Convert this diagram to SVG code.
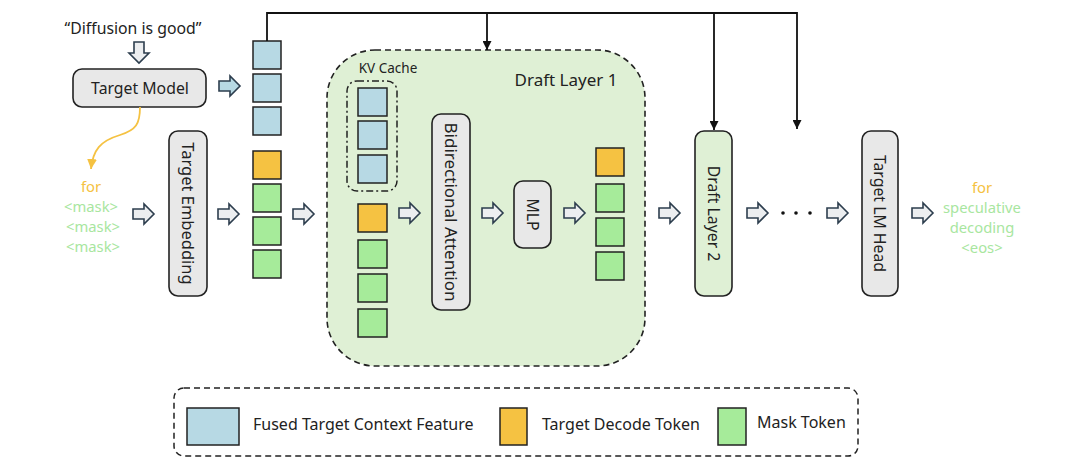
<svg xmlns="http://www.w3.org/2000/svg" width="1080" height="472" viewBox="0 0 1080 472">
<defs>
<style>
text{font-family:"Noto Sans","Open Sans","Liberation Sans",sans-serif;fill:#222;}
.lbl{font-size:15.8px;text-anchor:middle;dominant-baseline:central;}
.box{fill:#e8e8e8;stroke:#222;stroke-width:1.6;}
.gbox{fill:#dff0d5;stroke:#222;stroke-width:1.6;}
.b{fill:#b7d9e4;stroke:#222;stroke-width:1.5;}
.o{fill:#f5c242;stroke:#222;stroke-width:1.5;}
.g{fill:#a6eb9a;stroke:#222;stroke-width:1.5;}
.fat{fill:#eceef0;stroke:#2d3e4e;stroke-width:1.6;stroke-linejoin:miter;}
.line{fill:none;stroke:#111;stroke-width:1.8;}
.otxt{fill:#f5c242;font-size:14.8px;text-anchor:middle;dominant-baseline:central;}
.gtxt{fill:#a8e6a0;font-size:14.8px;text-anchor:middle;dominant-baseline:central;}
.leg{font-size:16px;dominant-baseline:central;}
</style>
<path id="fa" d="M0,-5 H11 V-10 L21,0 L11,10 V5 H0 Z"/>
<marker id="ah" viewBox="0 0 10 10" refX="10" refY="5" markerWidth="9" markerHeight="9" markerUnits="userSpaceOnUse" orient="auto"><path d="M0,0 L10,5 L0,10 Z" fill="#111"/></marker>
<marker id="oh" viewBox="0 0 10 10" refX="10" refY="5" markerWidth="10" markerHeight="10" markerUnits="userSpaceOnUse" orient="auto"><path d="M0,0 L10,5 L0,10 Z" fill="#f5c242"/></marker>
</defs>
<rect width="1080" height="472" fill="#fff"/>

<g id="draft-layer-1">
<rect x="327" y="50" width="318" height="316" rx="48" fill="#dff0d5" stroke="#222" stroke-width="1.6" stroke-dasharray="6,4"/>
<text x="566" y="79" class="lbl" style="font-size:17px">Draft Layer 1</text>
</g>

<g id="kv-cache">
<rect x="347" y="81" width="50" height="110" rx="10" fill="none" stroke="#222" stroke-width="1.5" stroke-dasharray="7,3,2,3"/>
<text x="388" y="68" class="lbl" style="font-size:13.5px">KV Cache</text>
<rect x="358" y="88" width="29" height="28" class="b"/>
<rect x="358" y="121" width="29" height="28" class="b"/>
<rect x="358" y="155" width="29" height="28" class="b"/>
</g>

<g id="input-prompt">
<text x="133" y="28" class="lbl" style="font-size:15.8px">“Diffusion is good”</text>
</g>

<g id="target-model">
<rect x="73" y="69" width="133" height="38" rx="9" class="box"/>
<text x="140" y="88" class="lbl">Target Model</text>
</g>

<g id="mask-input">
<text x="91" y="186" class="otxt">for</text>
<text x="91" y="206" class="gtxt">&lt;mask&gt;</text>
<text x="93" y="226" class="gtxt">&lt;mask&gt;</text>
<text x="93" y="246" class="gtxt">&lt;mask&gt;</text>
</g>

<g id="target-embedding">
<rect x="169" y="131" width="38" height="165" rx="9" class="box"/>
<text transform="translate(188,213.5) rotate(90)" class="lbl" style="font-size:16.5px">Target Embedding</text>
</g>

<g id="context-tokens">
<rect x="253" y="41" width="28" height="28" class="b"/>
<rect x="253" y="74" width="28" height="28" class="b"/>
<rect x="253" y="107" width="28" height="28" class="b"/>
<rect x="253" y="151" width="28" height="28" class="o"/>
<rect x="253" y="184" width="28" height="28" class="g"/>
<rect x="253" y="217" width="28" height="28" class="g"/>
<rect x="253" y="250" width="28" height="28" class="g"/>
</g>

<g id="layer1-input-tokens">
<rect x="358" y="204" width="29" height="28" class="o"/>
<rect x="358" y="240" width="29" height="28" class="g"/>
<rect x="358" y="274" width="29" height="28" class="g"/>
<rect x="358" y="309" width="29" height="28" class="g"/>
</g>

<g id="bidirectional-attention">
<rect x="432" y="114" width="38" height="196" rx="9" class="box"/>
<text transform="translate(451,212) rotate(90)" class="lbl" style="font-size:17px">Bidirectional Attention</text>
</g>

<g id="mlp">
<rect x="514" y="181" width="37" height="67" rx="9" class="box"/>
<text transform="translate(532.5,214.5) rotate(90)" class="lbl">MLP</text>
</g>

<g id="layer1-output-tokens">
<rect x="596" y="148" width="28" height="28" class="o"/>
<rect x="596" y="184" width="28" height="28" class="g"/>
<rect x="596" y="218" width="28" height="28" class="g"/>
<rect x="596" y="252" width="28" height="28" class="g"/>
</g>

<g id="draft-layer-2">
<rect x="695" y="131" width="37" height="165" rx="9" class="gbox"/>
<text transform="translate(713.5,213.5) rotate(90)" class="lbl">Draft Layer 2</text>
</g>

<g id="ellipsis">
<circle cx="783" cy="213" r="1.8" fill="#111"/>
<circle cx="796" cy="213" r="1.8" fill="#111"/>
<circle cx="810" cy="213" r="1.8" fill="#111"/>
</g>

<g id="target-lm-head">
<rect x="862" y="131" width="36" height="165" rx="9" class="box"/>
<text transform="translate(880,213.5) rotate(90)" class="lbl">Target LM Head</text>
</g>

<g id="output-text">
<text x="982" y="187" class="otxt">for</text>
<text x="982" y="207" class="gtxt">speculative</text>
<text x="982" y="227" class="gtxt">decoding</text>
<text x="982" y="247" class="gtxt">&lt;eos&gt;</text>
</g>

<g id="connectors">
<use href="#fa" transform="translate(139,42) rotate(90)" class="fat"/>
<use href="#fa" transform="translate(219,86)" class="fat" style="fill:#b7d9e4"/>
<use href="#fa" transform="translate(133,214)" class="fat"/>
<use href="#fa" transform="translate(218,214)" class="fat"/>
<use href="#fa" transform="translate(293,214)" class="fat"/>
<use href="#fa" transform="translate(399,213)" class="fat"/>
<use href="#fa" transform="translate(482,213)" class="fat"/>
<use href="#fa" transform="translate(564,213)" class="fat"/>
<use href="#fa" transform="translate(659,213)" class="fat"/>
<use href="#fa" transform="translate(747,213)" class="fat"/>
<use href="#fa" transform="translate(827,213)" class="fat"/>
<use href="#fa" transform="translate(912,213)" class="fat"/>
<path d="M140,107 C140,124 136,130 120,135 C100,141 93,150 91,169" fill="none" stroke="#f5c242" stroke-width="1.8" marker-end="url(#oh)"/>
<path d="M267,41 V13 H797 V129" class="line" marker-end="url(#ah)"/>
<path d="M487,13 V50" class="line" marker-end="url(#ah)"/>
<path d="M714,13 V130" class="line" marker-end="url(#ah)"/>
</g>

<g id="legend">
<rect x="174" y="388" width="684" height="68" rx="10" fill="none" stroke="#222" stroke-width="1.5" stroke-dasharray="6,4"/>
<rect x="187" y="408" width="52" height="37" class="b"/>
<text x="253" y="424" class="leg">Fused Target Context Feature</text>
<rect x="500" y="408" width="27" height="37" class="o"/>
<text x="542" y="424" class="leg">Target Decode Token</text>
<rect x="718" y="408" width="28" height="37" class="g"/>
<text x="757" y="422" class="leg">Mask Token</text>
</g>
</svg>
